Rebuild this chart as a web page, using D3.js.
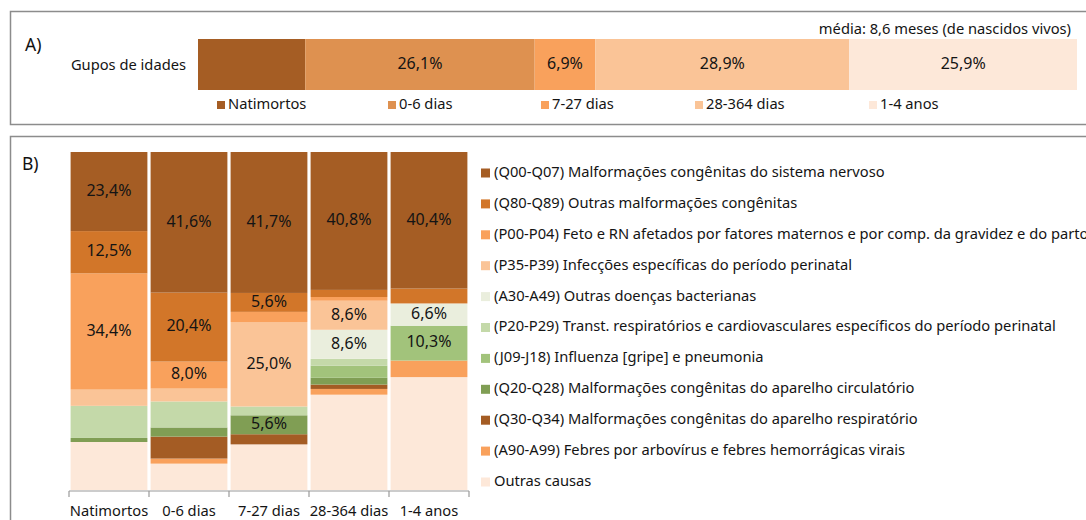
<!DOCTYPE html>
<html>
<head>
<meta charset="utf-8">
<script src="https://cdn.jsdelivr.net/npm/d3@7"></script>
<style>
  html, body { margin: 0; padding: 0; background: #fff; }
  svg { display: block; font-family: "Noto Sans", sans-serif; }
</style>
</head>
<body>
<svg id="chart" width="1086" height="520"></svg>
<script>
// --- data ---
const ageGroups = ["Natimortos", "0-6 dias", "7-27 dias", "28-364 dias", "1-4 anos"];
const ageShare = [12.2, 26.1, 6.9, 28.9, 25.9];
const ageShareShown = [false, true, true, true, true];

const causeCodes = ["Q00-Q07", "Q80-Q89", "P00-P04", "P35-P39", "A30-A49", "P20-P29",
  "J09-J18", "Q20-Q28", "Q30-Q34", "A90-A99", "Outras"];
const causeNames = [
  "Malformações congênitas do sistema nervoso",
  "Outras malformações congênitas",
  "Feto e RN afetados por fatores maternos e por comp. da gravidez e do parto",
  "Infecções específicas do período perinatal",
  "Outras doenças bacterianas",
  "Transt. respiratórios e cardiovasculares específicos do período perinatal",
  "Influenza [gripe] e pneumonia",
  "Malformações congênitas do aparelho circulatório",
  "Malformações congênitas do aparelho respiratório",
  "Febres por arbovírus e febres hemorrágicas virais",
  "Outras causas"
];
// one row per cause, values per age group (%)
const q00 = [23.4, 41.6, 41.7, 40.8, 40.4];
const q80 = [12.5, 20.4, 5.6, 2.1, 4.4];
const p00 = [34.4, 8.0, 3.0, 1.1, 0];
const p35 = [4.8, 3.8, 25.0, 8.6, 0];
const a30 = [0, 0, 0, 8.6, 6.6];
const p20 = [9.5, 7.7, 2.6, 2.0, 0];
const j09 = [0, 0, 0, 3.6, 10.3];
const q20 = [1.2, 2.7, 5.6, 2.0, 0];
const q30 = [0, 6.5, 3.0, 1.3, 0];
const a90 = [0, 1.5, 0, 1.7, 4.9];
const outras = [14.2, 7.8, 13.5, 28.2, 33.4];
const causeValues = [q00, q80, p00, p35, a30, p20, j09, q20, q30, a90, outras];

// which segments carry a value label, per age group
const labelledCauses = [
  ["Q00-Q07", "Q80-Q89", "P00-P04"],
  ["Q00-Q07", "Q80-Q89", "P00-P04"],
  ["Q00-Q07", "Q80-Q89", "P35-P39", "Q20-Q28"],
  ["Q00-Q07", "P35-P39", "A30-A49"],
  ["Q00-Q07", "A30-A49", "J09-J18"]
];

// --- styles ---
const ageColors = ["#a55d24", "#de9150", "#f9a15c", "#fac497", "#fde8d9"];
const causeColors = ["#a55d24", "#d27629", "#f9a15c", "#fac497", "#eaeedd", "#c4d9a9",
  "#a2c37b", "#809e54", "#a45c24", "#f9a15c", "#fde8d9"];
const textColor = "#141414";
const fs = 14.7;
const fmt = v => d3.format(".1f")(v).replace(".", ",") + "%";

const svg = d3.select("#chart");

// frames
svg.append("rect").attr("x", 10.5).attr("y", 11.5).attr("width", 1100).attr("height", 113)
  .attr("fill", "none").attr("stroke", "#8c8c8c").attr("stroke-width", 1.5);
svg.append("rect").attr("x", 10.5).attr("y", 136.5).attr("width", 1100).attr("height", 420)
  .attr("fill", "none").attr("stroke", "#8c8c8c").attr("stroke-width", 1.5);

// ---------- A) ----------
const gA = svg.append("g");
gA.append("text").attr("x", 25).attr("y", 51).attr("font-size", 17.5).attr("fill", "#111").text("A)");
gA.append("text").attr("x", 186).attr("y", 66).attr("text-anchor", "end")
  .attr("dominant-baseline", "middle").attr("font-size", fs).attr("fill", textColor)
  .text("Gupos de idades");
gA.append("text").attr("x", 1071).attr("y", 34).attr("text-anchor", "end")
  .attr("font-size", fs).attr("fill", textColor)
  .text("média: 8,6 meses (de nascidos vivos)");

const xA = d3.scaleLinear().domain([0, d3.sum(ageShare)]).range([198, 1077]);
const cumA = d3.cumsum(ageShare);
const segA = ageShare.map((v, i) => ({ v, i, x0: cumA[i] - v, x1: cumA[i] }));

gA.selectAll("rect.seg").data(segA).join("rect")
  .attr("class", "seg")
  .attr("x", d => xA(d.x0))
  .attr("y", 39)
  .attr("width", d => xA(d.x1) - xA(d.x0))
  .attr("height", 51)
  .attr("fill", d => ageColors[d.i]);

gA.selectAll("text.lab").data(segA.filter(d => ageShareShown[d.i])).join("text")
  .attr("class", "lab")
  .attr("x", d => xA((d.x0 + d.x1) / 2))
  .attr("y", 65)
  .attr("text-anchor", "middle").attr("dominant-baseline", "middle")
  .attr("font-size", 16).attr("fill", textColor)
  .text(d => fmt(d.v));

// legend A
const legendAx = [217, 388, 541, 695, 869];
const legA = gA.selectAll("g.leg").data(ageGroups).join("g")
  .attr("class", "leg")
  .attr("transform", (d, i) => `translate(${legendAx[i]},105)`);
legA.append("rect").attr("x", 0).attr("y", -4).attr("width", 8).attr("height", 8)
  .attr("fill", (d, i) => ageColors[i]);
legA.append("text").attr("x", 11).attr("y", 0).attr("dominant-baseline", "middle")
  .attr("font-size", fs).attr("fill", textColor).text(d => d);

// ---------- B) ----------
const gB = svg.append("g");
gB.append("text").attr("x", 22).attr("y", 170).attr("font-size", 17.5).attr("fill", "#111").text("B)");

const rows = ageGroups.map((g, j) => {
  const r = { group: g, j };
  causeCodes.forEach((c, k) => { r[c] = causeValues[k][j]; });
  return r;
});

const stack = d3.stack()
  .keys(causeCodes.slice().reverse())
  .offset(d3.stackOffsetExpand);
const series = stack(rows);

const xB = d3.scaleBand().domain(ageGroups).range([69, 469])
  .paddingInner(0.04).paddingOuter(0.02);
const yB = d3.scaleLinear().domain([0, 1]).range([490, 152]);

const layers = gB.selectAll("g.layer").data(series).join("g")
  .attr("class", "layer")
  .attr("fill", s => causeColors[causeCodes.indexOf(s.key)]);

layers.selectAll("rect").data(s => s.map(p => ({ p, key: s.key }))).join("rect")
  .attr("x", d => xB(d.p.data.group))
  .attr("y", d => yB(d.p[1]))
  .attr("width", xB.bandwidth())
  .attr("height", d => Math.max(0, yB(d.p[0]) - yB(d.p[1])));

const labelData = [];
series.forEach(s => {
  s.forEach(p => {
    const j = p.data.j;
    if (labelledCauses[j].includes(s.key)) {
      labelData.push({ x: xB(p.data.group) + xB.bandwidth() / 2,
        y: (yB(p[0]) + yB(p[1])) / 2, v: p.data[s.key] });
    }
  });
});
gB.selectAll("text.vlab").data(labelData).join("text")
  .attr("class", "vlab")
  .attr("x", d => d.x).attr("y", d => d.y)
  .attr("text-anchor", "middle").attr("dominant-baseline", "middle")
  .attr("font-size", 16).attr("fill", textColor)
  .text(d => fmt(d.v));

// axis
const axisY = 491;
const edges = ageGroups.map(g => xB(g) - xB.step() * xB.paddingInner() / 2)
  .concat([xB(ageGroups[ageGroups.length - 1]) + xB.bandwidth() + xB.step() * xB.paddingInner() / 2]);
gB.append("line").attr("x1", edges[0]).attr("x2", edges[edges.length - 1])
  .attr("y1", axisY).attr("y2", axisY).attr("stroke", "#9a9a9a").attr("stroke-width", 1.2);
gB.selectAll("line.tick").data(edges).join("line")
  .attr("class", "tick")
  .attr("x1", d => d).attr("x2", d => d).attr("y1", axisY).attr("y2", axisY + 6)
  .attr("stroke", "#9a9a9a").attr("stroke-width", 1.2);
gB.selectAll("text.xlab").data(ageGroups).join("text")
  .attr("class", "xlab")
  .attr("x", d => xB(d) + xB.bandwidth() / 2)
  .attr("y", 512)
  .attr("text-anchor", "middle").attr("dominant-baseline", "middle")
  .attr("font-size", fs).attr("fill", textColor)
  .text(d => d);

// legend B
const legB = gB.selectAll("g.legb").data(causeCodes).join("g")
  .attr("class", "legb")
  .attr("transform", (d, i) => `translate(481,${173 + i * 30.9})`);
legB.append("rect").attr("x", 0).attr("y", -4.5).attr("width", 9).attr("height", 9)
  .attr("fill", (d, i) => causeColors[i]);
legB.append("text").attr("x", 13).attr("y", 0).attr("dominant-baseline", "middle")
  .attr("font-size", fs).attr("fill", textColor)
  .text((d, i) => d === "Outras" ? causeNames[i] : `(${d}) ${causeNames[i]}`);
</script>
</body>
</html>
